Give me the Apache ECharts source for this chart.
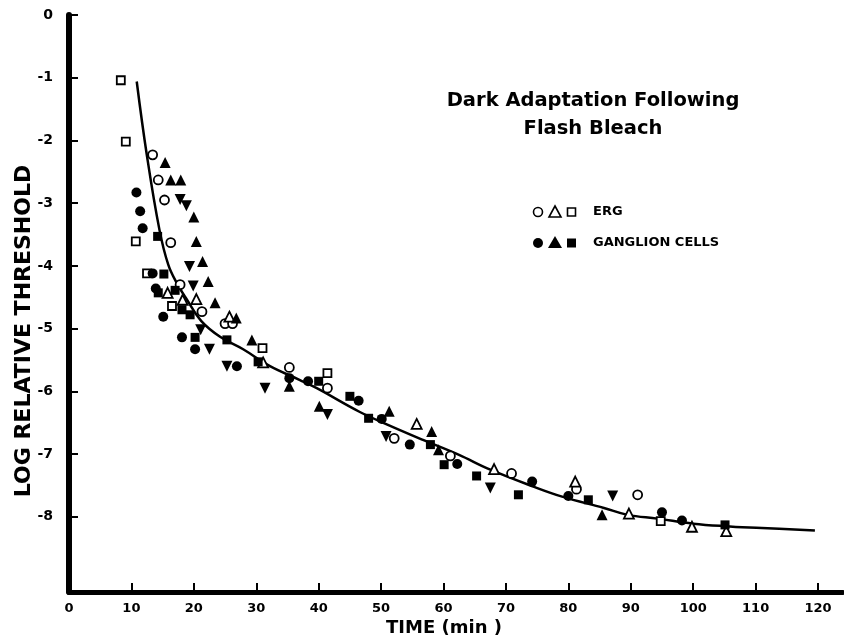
<!DOCTYPE html>
<html>
<head>
<meta charset="utf-8">
<script src="https://cdn.jsdelivr.net/npm/echarts@6/dist/echarts.min.js"></script>
<style>
  html, body { margin: 0; padding: 0; background: #fff; }
  #main { width: 844px; height: 644px; }
</style>
</head>
<body>
<div id="main"></div>
<script>
// dark adaptation after flash bleach, ERG vs ganglion cells

var xTicks = [0, 10, 20, 30, 40, 50, 60, 70, 80, 90, 100, 110, 120];
var yTicks = [0, -1, -2, -3, -4, -5, -6, -7, -8];

// fitted curve
var fitCurve = [
  [10.85, -1.06], [12.45, -2.22], [14.5, -3.43], [15.9, -3.98], [17.3, -4.28],
  [18.9, -4.54], [21.2, -4.88], [24.2, -5.13], [27.9, -5.33], [32.2, -5.6],
  [37, -5.82], [39.7, -5.95], [46.6, -6.33], [51, -6.53], [56.6, -6.77],
  [62.4, -7.01], [67.5, -7.25], [74.4, -7.52], [79, -7.68], [85.7, -7.86],
  [89.5, -7.97], [94.3, -8.03], [100, -8.11], [105, -8.15], [111, -8.18], [119.5, -8.22]
];

// ERG (open symbols)
var ergCircle = [
  [13.4, -2.23], [14.3, -2.63], [15.3, -2.95], [16.3, -3.63], [17.8, -4.3],
  [21.3, -4.73], [25.0, -4.92], [26.2, -4.92], [35.3, -5.62], [41.4, -5.95],
  [52.1, -6.75], [61.1, -7.03], [70.9, -7.31], [81.3, -7.56], [91.1, -7.65]
];
var ergTriangle = [
  [15.8, -4.43], [18.2, -4.54], [20.4, -4.53], [25.7, -4.81], [31.1, -5.54],
  [55.7, -6.52], [68.1, -7.24], [81.1, -7.44], [89.7, -7.95], [99.8, -8.16], [105.3, -8.23]
];
var ergSquare = [
  [8.3, -1.04], [9.1, -2.02], [10.7, -3.61], [12.5, -4.12], [16.5, -4.64],
  [31.0, -5.31], [41.4, -5.71], [94.8, -8.07]
];

// ganglion cells (filled symbols)
var gcCircle = [
  [10.8, -2.83], [11.4, -3.13], [11.8, -3.4], [13.4, -4.12], [13.9, -4.36],
  [15.1, -4.81], [18.1, -5.14], [20.2, -5.33], [26.9, -5.6], [35.3, -5.79],
  [38.3, -5.84], [46.4, -6.15], [50.1, -6.44], [54.6, -6.85], [62.2, -7.16],
  [74.2, -7.44], [80.0, -7.67], [95.0, -7.93], [98.2, -8.06]
];
var gcTriangle = [
  [15.4, -2.35], [16.3, -2.63], [17.9, -2.63], [20.0, -3.22], [20.4, -3.61],
  [21.4, -3.93], [22.3, -4.25], [23.4, -4.59], [26.8, -4.83], [29.3, -5.18],
  [35.3, -5.92], [40.1, -6.24], [51.3, -6.32], [58.1, -6.64], [59.2, -6.93], [85.4, -7.97]
];
var gcSquare = [
  [14.2, -3.53], [15.2, -4.13], [14.3, -4.43], [17.0, -4.39], [18.1, -4.7],
  [19.4, -4.78], [20.2, -5.14], [25.3, -5.18], [30.3, -5.53], [40.0, -5.84],
  [45.0, -6.08], [48.0, -6.43], [57.9, -6.85], [60.1, -7.17], [65.3, -7.35],
  [72.0, -7.65], [83.2, -7.73], [105.1, -8.13]
];
var gcInvTriangle = [
  [17.8, -2.94], [18.8, -3.04], [19.3, -4.01], [19.9, -4.32], [21.1, -5.02],
  [22.5, -5.33], [25.3, -5.6], [31.4, -5.95], [41.4, -6.37], [50.8, -6.72],
  [67.5, -7.54], [87.1, -7.67]
];

var chartDom = document.getElementById('main');
var myChart = echarts.init(chartDom);
var option;

var fontFam = 'DejaVu Sans';

function openPts(name, data, symbol, size) {
  return {
    name: name, type: 'scatter', data: data, symbol: symbol, symbolSize: size, z: 3,
    itemStyle: { color: '#fff', borderColor: '#000', borderWidth: 1.8, opacity: 1 }
  };
}
function filledPts(name, data, symbol, size, rotate) {
  return {
    name: name, type: 'scatter', data: data, symbol: symbol, symbolSize: size, z: 4,
    symbolRotate: rotate || 0,
    itemStyle: { color: '#000', opacity: 1 }
  };
}

option = {
  backgroundColor: '#fff',
  animation: false,
  grid: { left: 69, top: 15, right: 1, bottom: 52 },
  xAxis: {
    type: 'value', min: 0, max: 124,
    axisLine: { onZero: false, lineStyle: { color: '#000', width: 5 } },
    axisTick: { inside: true, length: 9, customValues: xTicks, lineStyle: { color: '#000', width: 2 } },
    axisLabel: {
      customValues: xTicks, margin: 10, color: '#000',
      fontFamily: fontFam, fontWeight: 'bold', fontSize: 13
    },
    splitLine: { show: false }
  },
  yAxis: {
    type: 'value', min: -9.2, max: 0,
    axisLine: { onZero: false, lineStyle: { color: '#000', width: 6 } },
    axisTick: { inside: true, length: 9, customValues: yTicks, lineStyle: { color: '#000', width: 2 } },
    axisLabel: {
      customValues: yTicks, margin: 16, color: '#000',
      fontFamily: fontFam, fontWeight: 'bold', fontSize: 14
    },
    splitLine: { show: false }
  },
  graphic: [
    { type: 'text', x: 24, y: 331, rotation: Math.PI / 2,
      style: { text: 'LOG RELATIVE THRESHOLD', fill: '#000', font: 'bold 22px DejaVu Sans',
        align: 'center', verticalAlign: 'middle' } },
    { type: 'text', x: 444, y: 628,
      style: { text: 'TIME (min )', fill: '#000', font: 'bold 18px DejaVu Sans',
        align: 'center', verticalAlign: 'middle' } },
    { type: 'text', x: 593, y: 101,
      style: { text: 'Dark Adaptation Following', fill: '#000', font: 'bold 19.5px DejaVu Sans',
        align: 'center', verticalAlign: 'middle' } },
    { type: 'text', x: 593, y: 129,
      style: { text: 'Flash Bleach', fill: '#000', font: 'bold 19.5px DejaVu Sans',
        align: 'center', verticalAlign: 'middle' } },
    // legend
    { type: 'circle', shape: { cx: 538, cy: 212, r: 4.5 }, style: { fill: '#fff', stroke: '#000', lineWidth: 1.6 } },
    { type: 'polygon', shape: { points: [[555, 206], [561, 217], [549, 217]] }, style: { fill: '#fff', stroke: '#000', lineWidth: 1.6 } },
    { type: 'rect', shape: { x: 567.5, y: 208, width: 8, height: 8 }, style: { fill: '#fff', stroke: '#000', lineWidth: 1.6 } },
    { type: 'text', x: 593, y: 212,
      style: { text: 'ERG', fill: '#000', font: 'bold 13px DejaVu Sans', verticalAlign: 'middle' } },
    { type: 'circle', shape: { cx: 538, cy: 243, r: 5 }, style: { fill: '#000' } },
    { type: 'polygon', shape: { points: [[555, 236], [562, 248], [548, 248]] }, style: { fill: '#000' } },
    { type: 'rect', shape: { x: 567, y: 238.5, width: 9, height: 9 }, style: { fill: '#000' } },
    { type: 'text', x: 593, y: 243,
      style: { text: 'GANGLION CELLS', fill: '#000', font: 'bold 13px DejaVu Sans', verticalAlign: 'middle' } }
  ],
  series: [
    {
      name: 'fit', type: 'line', data: fitCurve, smooth: 0.4, showSymbol: false, z: 1,
      lineStyle: { color: '#000', width: 2.5 }
    },
    openPts('ERG circle', ergCircle, 'circle', 9),
    openPts('ERG triangle', ergTriangle, 'triangle', 10),
    openPts('ERG square', ergSquare, 'rect', 8),
    filledPts('GC circle', gcCircle, 'circle', 10),
    filledPts('GC triangle', gcTriangle, 'triangle', 11),
    filledPts('GC square', gcSquare, 'rect', 9),
    filledPts('GC inverted', gcInvTriangle, 'triangle', 11, 180)
  ]
};

option && myChart.setOption(option);
</script>
</body>
</html>
